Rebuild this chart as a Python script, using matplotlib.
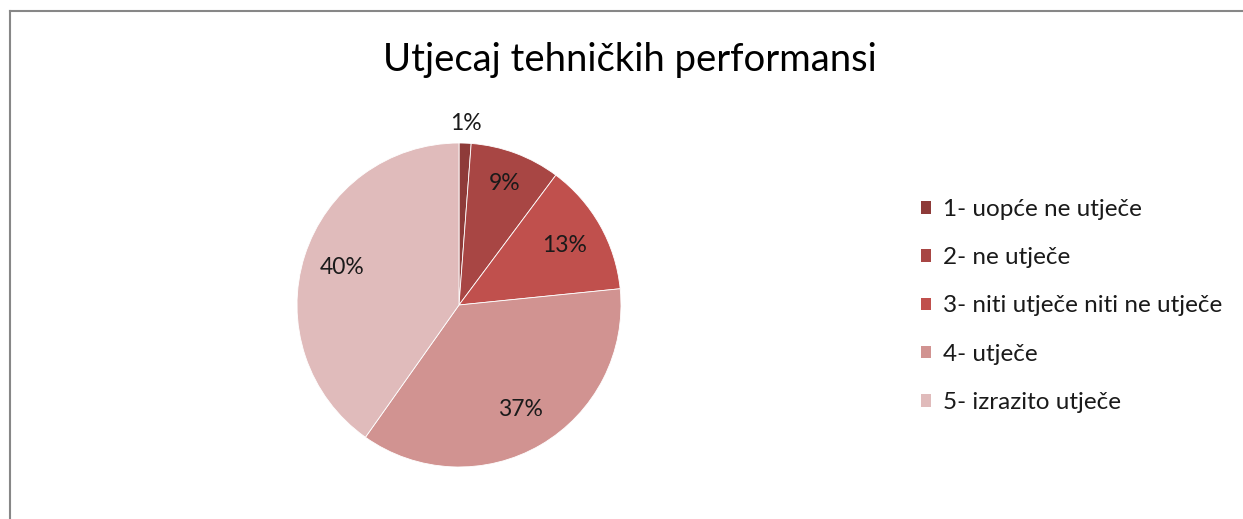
import numpy as np
import matplotlib.pyplot as plt
from matplotlib.patches import Rectangle
from matplotlib.lines import Line2D

plt.rcParams['font.family'] = ['Lato', 'DejaVu Sans']

title = "Utjecaj tehničkih performansi"
categories = ["1- uopće ne utječe", "2- ne utječe", "3- niti utječe niti ne utječe",
              "4- utječe", "5- izrazito utječe"]
values = [1.2, 9.0, 13.2, 36.4, 40.2]
pct_labels = ["1%", "9%", "13%", "37%", "40%"]
colors = ["#8E3B39", "#A84644", "#C0504D", "#D19391", "#E0BBBB"]

W, H = 1243, 519
fig = plt.figure(figsize=(W / 100, H / 100), dpi=100)

# outer chart border (cropped at right/bottom)
fig.add_artist(Line2D([10 / W, 10 / W], [0, 1 - 11 / H], color="#878787", lw=1.5))
fig.add_artist(Line2D([10 / W, 1], [1 - 11 / H, 1 - 11 / H], color="#878787", lw=1.5))

cx, cy, r = 459, 305, 162
ax = fig.add_axes([(cx - r) / W, (H - cy - r) / H, 2 * r / W, 2 * r / H])
wedges, _ = ax.pie(values, colors=colors, startangle=90, counterclock=False,
                   wedgeprops=dict(edgecolor="white", linewidth=0.6))
ax.set_xlim(-1, 1)
ax.set_ylim(-1, 1)
ax.set_aspect("equal")

dist = [1.12, 0.80, 0.75, 0.75, 0.76]
for w, lab, d in zip(wedges, pct_labels, dist):
    ang = np.deg2rad((w.theta1 + w.theta2) / 2)
    ax.text(d * np.cos(ang), d * np.sin(ang), lab, ha="center", va="center",
            fontsize=16.5, color="#1a1a1a", clip_on=False)

fig.text(630 / W, 1 - 60 / H, title, ha="center", va="center", fontsize=27.5, color="black")

handles = [Rectangle((0, 0), 1, 1, facecolor=c, edgecolor="none") for c in colors]
fig.legend(handles, categories, loc="center left", bbox_to_anchor=(921 / W, 1 - 306 / H),
           frameon=False, fontsize=17.5, handlelength=0.42, handleheight=0.42,
           handletextpad=0.5, labelspacing=1.12, borderpad=0, borderaxespad=0,
           labelcolor="#1a1a1a")

fig.savefig("out.png", dpi=100)
